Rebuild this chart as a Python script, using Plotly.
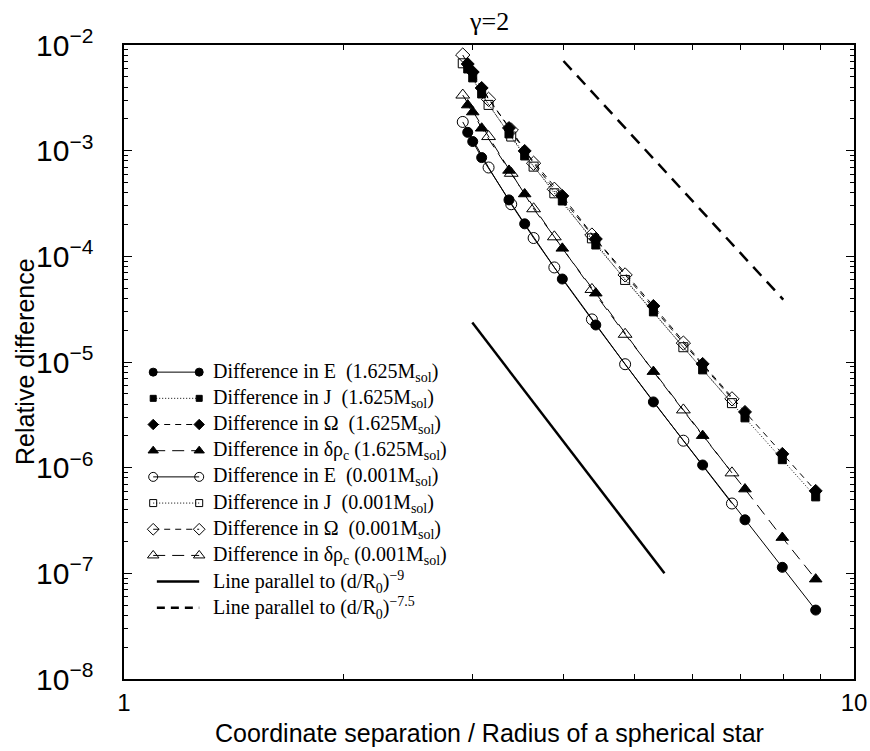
import plotly.graph_objects as go

# Separation grids (d / R0) for the two stellar masses
x_heavy = [2.957, 3.004, 3.09, 3.368, 3.539, 3.985, 4.429, 5.311, 6.204, 7.09, 7.976, 8.862]
x_light = [2.911, 3.158, 3.392, 3.640, 3.886, 4.375, 4.858, 5.838, 6.805]

# Relative differences, 1.625 M_sol
E_heavy = [1.49e-3, 1.22e-3, 8.6e-4, 3.42e-4, 2.03e-4, 6.1e-5, 2.24e-5, 4.19e-6, 1.06e-6, 3.21e-7, 1.14e-7, 4.49e-8]
J_heavy = [5.93e-3, 4.88e-3, 3.44e-3, 1.44e-3, 8.91e-4, 3.34e-4, 1.28e-4, 2.98e-5, 8.42e-6, 2.96e-6, 1.19e-6, 5.29e-7]
W_heavy = [6.61e-3, 5.55e-3, 3.92e-3, 1.64e-3, 9.94e-4, 3.73e-4, 1.46e-4, 3.39e-5, 9.59e-6, 3.37e-6, 1.35e-6, 6.03e-7]
R_heavy = [2.70e-3, 2.32e-3, 1.63e-3, 6.50e-4, 3.89e-4, 1.19e-4, 4.48e-5, 8.11e-6, 2.01e-6, 6.27e-7, 2.18e-7, 8.81e-8]

# Relative differences, 0.001 M_sol
E_light = [1.87e-3, 6.93e-4, 3.11e-4, 1.49e-4, 7.85e-5, 2.53e-5, 9.53e-6, 1.80e-6, 4.58e-7]
J_light = [6.71e-3, 2.71e-3, 1.36e-3, 7.06e-4, 3.95e-4, 1.48e-4, 5.98e-5, 1.38e-5, 4.08e-6]
W_light = [8.04e-3, 3.06e-3, 1.57e-3, 7.60e-4, 4.31e-4, 1.59e-4, 6.67e-5, 1.51e-5, 4.48e-6]
R_light = [3.36e-3, 1.36e-3, 6.11e-4, 2.82e-4, 1.53e-4, 4.86e-5, 1.83e-5, 3.52e-6, 8.93e-7]

# Guide lines with fixed power-law slopes
slope9_x = [3.0, 5.5]
slope9_y = [2.36e-5, 1.0e-7]
slope75_x = [4.0, 8.0]
slope75_y = [7.06e-3, 3.9e-5]

SP = "\u00a0"
series = [
    dict(label=f"Difference in E{SP} (1.625M<sub>sol</sub>)", x=x_heavy, y=E_heavy, symbol="circle", size=10, dash="solid"),
    dict(label=f"Difference in J{SP} (1.625M<sub>sol</sub>)", x=x_heavy, y=J_heavy, symbol="square", size=8, dash="1px,2px"),
    dict(label=f"Difference in Ω{SP} (1.625M<sub>sol</sub>)", x=x_heavy, y=W_heavy, symbol="diamond", size=10, dash="6px,5px"),
    dict(label="Difference in δρ<sub>c</sub> (1.625M<sub>sol</sub>)", x=x_heavy, y=R_heavy, symbol="triangle-up", size=11, dash="12px,7px"),
    dict(label=f"Difference in E{SP} (0.001M<sub>sol</sub>)", x=x_light, y=E_light, symbol="circle-open", size=11, dash="solid"),
    dict(label=f"Difference in J{SP} (0.001M<sub>sol</sub>)", x=x_light, y=J_light, symbol="square-open", size=9, dash="1px,2px"),
    dict(label=f"Difference in Ω{SP} (0.001M<sub>sol</sub>)", x=x_light, y=W_light, symbol="diamond-open", size=11, dash="6px,5px"),
    dict(label="Difference in δρ<sub>c</sub> (0.001M<sub>sol</sub>)", x=x_light, y=R_light, symbol="triangle-up-open", size=12, dash="12px,7px"),
]
guides = [
    dict(label="Line parallel to (d/R<sub>0</sub>)<sup>−9</sup>", x=slope9_x, y=slope9_y, dash="solid"),
    dict(label="Line parallel to (d/R<sub>0</sub>)<sup>−7.5</sup>", x=slope75_x, y=slope75_y, dash="12px,8px"),
]

fig = go.Figure()

for s in series:
    fig.add_trace(go.Scatter(
        x=s["x"], y=s["y"], mode="lines+markers", showlegend=False,
        line=dict(color="black", width=1, dash=s["dash"]),
        marker=dict(symbol=s["symbol"], size=s["size"], color="black",
                    line=dict(color="black", width=1)),
    ))

for g in guides:
    fig.add_trace(go.Scatter(
        x=g["x"], y=g["y"], mode="lines", showlegend=False,
        line=dict(color="black", width=2.5, dash=g["dash"]),
    ))

# Key drawn on a hidden overlay axis spanning the plot area (0..1 in both directions)
key_x0, key_x1, key_text = 0.040, 0.103, 0.119
key_top, key_step = 0.484, 0.0413
annotations = []
for i, s in enumerate(series):
    ky = key_top - i * key_step
    fig.add_trace(go.Scatter(
        x=[key_x0, key_x1], y=[ky, ky], xaxis="x2", yaxis="y2",
        mode="lines+markers", showlegend=False, hoverinfo="skip",
        line=dict(color="black", width=1, dash=s["dash"]),
        marker=dict(symbol=s["symbol"], size=s["size"] - 2, color="black",
                    line=dict(color="black", width=1)),
    ))
    annotations.append(dict(x=key_text, y=ky, xref="x2", yref="y2", text=s["label"],
                            showarrow=False, xanchor="left", yanchor="middle",
                            font=dict(family="Liberation Serif", size=20, color="black")))
for j, g in enumerate(guides):
    ky = key_top - (len(series) + j) * key_step
    fig.add_trace(go.Scatter(
        x=[key_x0 + 0.005, key_x1], y=[ky, ky], xaxis="x2", yaxis="y2",
        mode="lines", showlegend=False, hoverinfo="skip",
        line=dict(color="black", width=2.5, dash="8px,6px" if g["dash"] != "solid" else "solid"),
    ))
    annotations.append(dict(x=key_text, y=ky, xref="x2", yref="y2", text=g["label"],
                            showarrow=False, xanchor="left", yanchor="middle",
                            font=dict(family="Liberation Serif", size=20, color="black")))

axis_font = dict(family="Liberation Sans", size=25, color="black")
annotations += [
    dict(x=0.5, y=1, xref="paper", yref="paper", yshift=24, text="γ=2", showarrow=False,
         xanchor="center", yanchor="middle",
         font=dict(family="Liberation Serif", size=26, color="black")),
    dict(x=0.5, y=0, xref="paper", yref="paper", yshift=-54,
         text="Coordinate separation / Radius of a spherical star", showarrow=False,
         xanchor="center", yanchor="middle", font=axis_font),
    dict(x=0, y=0.5, xref="paper", yref="paper", xshift=-99, text="Relative difference",
         textangle=-90, showarrow=False, xanchor="center", yanchor="middle", font=axis_font),
]

common = dict(showgrid=False, zeroline=False, showline=True, linecolor="black", linewidth=1.5,
              mirror="allticks", ticks="inside", tickcolor="black", tickwidth=1,
              automargin=False,
              tickfont=dict(family="Liberation Sans", size=24, color="black"))

fig.update_layout(
    width=870, height=751,
    margin=dict(l=124, r=16, t=45, b=72, autoexpand=False),
    paper_bgcolor="white", plot_bgcolor="white",
    xaxis=dict(type="log", range=[0, 1], dtick=1, ticklen=8, exponentformat="none",
               ticklabelstandoff=1,
               minor=dict(ticks="inside", ticklen=5, dtick="D1", tickcolor="black", showgrid=False),
               **common),
    yaxis=dict(type="log", range=[-8, -2], dtick=1, ticklen=8, exponentformat="power",
               ticklabelstandoff=24,
               minor=dict(ticks="inside", ticklen=4, dtick="D1", tickcolor="black", showgrid=False),
               **common),
    xaxis2=dict(overlaying="x", range=[0, 1], visible=False, fixedrange=True),
    yaxis2=dict(overlaying="y", range=[0, 1], visible=False, fixedrange=True, anchor="x2"),
    annotations=annotations,
    showlegend=False,
)

fig.write_html("out.html")
